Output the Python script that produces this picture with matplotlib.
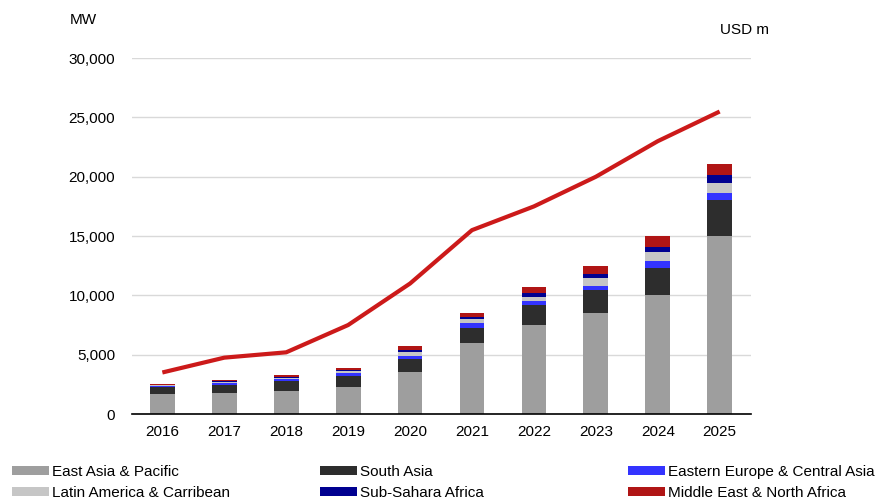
import numpy as np
import matplotlib.pyplot as plt

plt.rcParams['font.family'] = ['Liberation Sans', 'DejaVu Sans']

# Kapazität nach Region (MW) und Investitionen (USD m)
years = ['2016', '2017', '2018', '2019', '2020', '2021', '2022', '2023', '2024', '2025']
east_asia = [1700, 1800, 1900, 2300, 3500, 6000, 7500, 8500, 10000, 15000]
south_asia = [560, 670, 870, 930, 1100, 1290, 1650, 1950, 2300, 3000]
eastern_europe = [70, 140, 220, 250, 280, 340, 370, 360, 640, 670]
latin_america = [80, 110, 80, 110, 340, 370, 370, 670, 700, 780]
sub_sahara = [30, 50, 40, 85, 170, 170, 280, 340, 450, 670]
middle_east = [85, 110, 140, 225, 310, 360, 540, 680, 930, 990]
usd_m = [3500, 4750, 5200, 7500, 11000, 15500, 17500, 20000, 23000, 25500]

series = [
    ('East Asia & Pacific', east_asia, '#9e9e9e'),
    ('South Asia', south_asia, '#2d2d2d'),
    ('Eastern Europe & Central Asia', eastern_europe, '#3333ff'),
    ('Latin America & Carribean', latin_america, '#c6c6c6'),
    ('Sub-Sahara Africa', sub_sahara, '#000090'),
    ('Middle East & North Africa', middle_east, '#b01515'),
]

fig = plt.figure(figsize=(8.8, 4.97), dpi=100)
ax = fig.add_axes([0.15, 0.167, 0.703, 0.716])

x = np.arange(len(years))
bottom = np.zeros(len(years))
handles = {}
for name, vals, col in series:
    b = ax.bar(x, vals, width=0.4, bottom=bottom, color=col, label=name, zorder=2)
    handles[name] = b
    bottom += np.array(vals)

ax.set_ylim(0, 30000)
ax.set_xlim(-0.49, 9.5)
ax.set_yticks(range(0, 30001, 5000))
ax.yaxis.set_major_formatter(plt.FuncFormatter(lambda v, p: f'{int(v):,}'))
ax.set_xticks(x)
ax.set_xticklabels(years)
ax.grid(axis='y', color='#d9d9d9', linewidth=1, zorder=0)
ax.set_axisbelow(True)
for s in ['top', 'right', 'left']:
    ax.spines[s].set_visible(False)
ax.spines['bottom'].set_color('black')
ax.spines['bottom'].set_linewidth(1.2)
ax.tick_params(axis='both', length=0, labelsize=11, colors='black')
ax.tick_params(axis='y', pad=12)
ax.tick_params(axis='x', pad=8)

# Investitionen auf zweiter Achse ohne Beschriftung
ax2 = ax.twinx()
ax2.plot(x, usd_m, color='#cc1a1a', linewidth=3, solid_capstyle='butt', zorder=3)
ax2.set_ylim(0, 30000)
ax2.set_yticks([])
for s in ax2.spines.values():
    s.set_visible(False)

fig.text(70 / 880, 1 - 20 / 497, 'MW', fontsize=11, va='center', ha='left')
fig.text(720 / 880, 1 - 30 / 497, 'USD m', fontsize=11, va='center', ha='left')

# Legende in drei Spalten
cols = [
    ['East Asia & Pacific', 'Latin America & Carribean'],
    ['South Asia', 'Sub-Sahara Africa'],
    ['Eastern Europe & Central Asia', 'Middle East & North Africa'],
]
for i, names in enumerate(cols):
    fig.legend([handles[n] for n in names], names,
               loc='upper left', bbox_to_anchor=((12 + 308 * i) / 880, 1 - 465 / 497),
               frameon=False, fontsize=11, borderpad=0, borderaxespad=0,
               handlelength=2.4, handleheight=0.55, handletextpad=0.25,
               labelspacing=0.45)

fig.savefig('out.png', dpi=100)
